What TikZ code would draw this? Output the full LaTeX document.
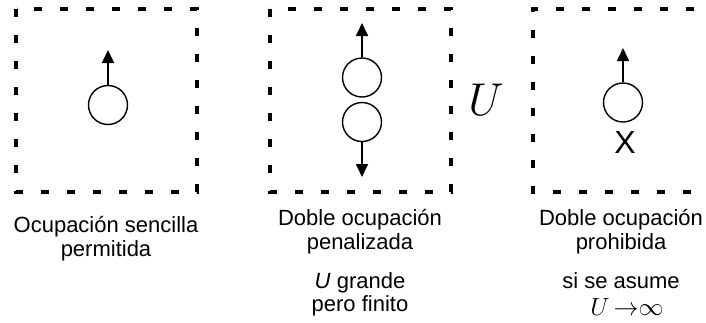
\documentclass[tikz,border=0pt]{standalone}
\usepackage{fix-cm}
\usepackage{fontspec}
\setmainfont{Liberation Sans}
\usetikzlibrary{arrows.meta}
\begin{document}
\begin{tikzpicture}[x=1pt,y=-1pt,
  site/.style={line width=3.2pt,dash pattern=on 8pt off 18pt},
  electron/.style={circle,draw,line width=1.4pt,minimum size=39pt,inner sep=0pt},
  spin/.style={line width=1.7pt,-{Triangle[length=13pt,width=12pt]}},
  lbl/.style={anchor=base,inner sep=0pt,font=\fontsize{22}{25}\selectfont},
  mlbl/.style={anchor=base,inner sep=0pt,font=\fontsize{25}{27}\selectfont}]
\useasboundingbox (0,0) rectangle (706,322);
% boxes
\draw[site] (16,9) rectangle (197,192);
\draw[site] (270,9) rectangle (451,192);
\draw[site] (720,9) -- (533,9) -- (533,192) -- (720,192);
% box 1
\node[electron] (e1) at (108,105) {};
\coordinate (t1) at (108,50);
\draw[spin] (e1.north) -- (t1);
% box 2
\node[electron] (e2a) at (362,77.5) {};
\node[electron] (e2b) at (362,122) {};
\coordinate (t2a) at (362,23);
\coordinate (t2b) at (362,177);
\draw[spin] (e2a.north) -- (t2a);
\draw[spin] (e2b.south) -- (t2b);
\node[anchor=base,inner sep=0pt,font=\fontsize{46}{46}\selectfont] (U) at (486,115) {$U$};
% box 3
\node[electron] (e3) at (623,102.5) {};
\coordinate (t3) at (623,48);
\draw[spin] (e3.north) -- (t3);
\node[anchor=base,inner sep=0pt,font=\fontsize{32}{32}\selectfont] (x3) at (625,153) {X};
% captions
\node[lbl] (c1a) at (106,232) {Ocupación sencilla};
\node[lbl] (c1b) at (106,256) {permitida};
\node[lbl] (c2a) at (360,225) {Doble ocupación};
\node[lbl] (c2b) at (360,249) {penalizada};
\node[lbl] (c2c) at (360,288) {\textit{U} grande};
\node[lbl] (c2d) at (360,311) {pero finito};
\node[lbl] (c3a) at (621,225) {Doble ocupación};
\node[lbl] (c3b) at (621,249) {prohibida};
\node[lbl] (c3c) at (621,288) {si se asume};
\node[mlbl] (c3d) at (627,315) {$U\,{\rightarrow}{\infty}$};
\end{tikzpicture}
\end{document}
